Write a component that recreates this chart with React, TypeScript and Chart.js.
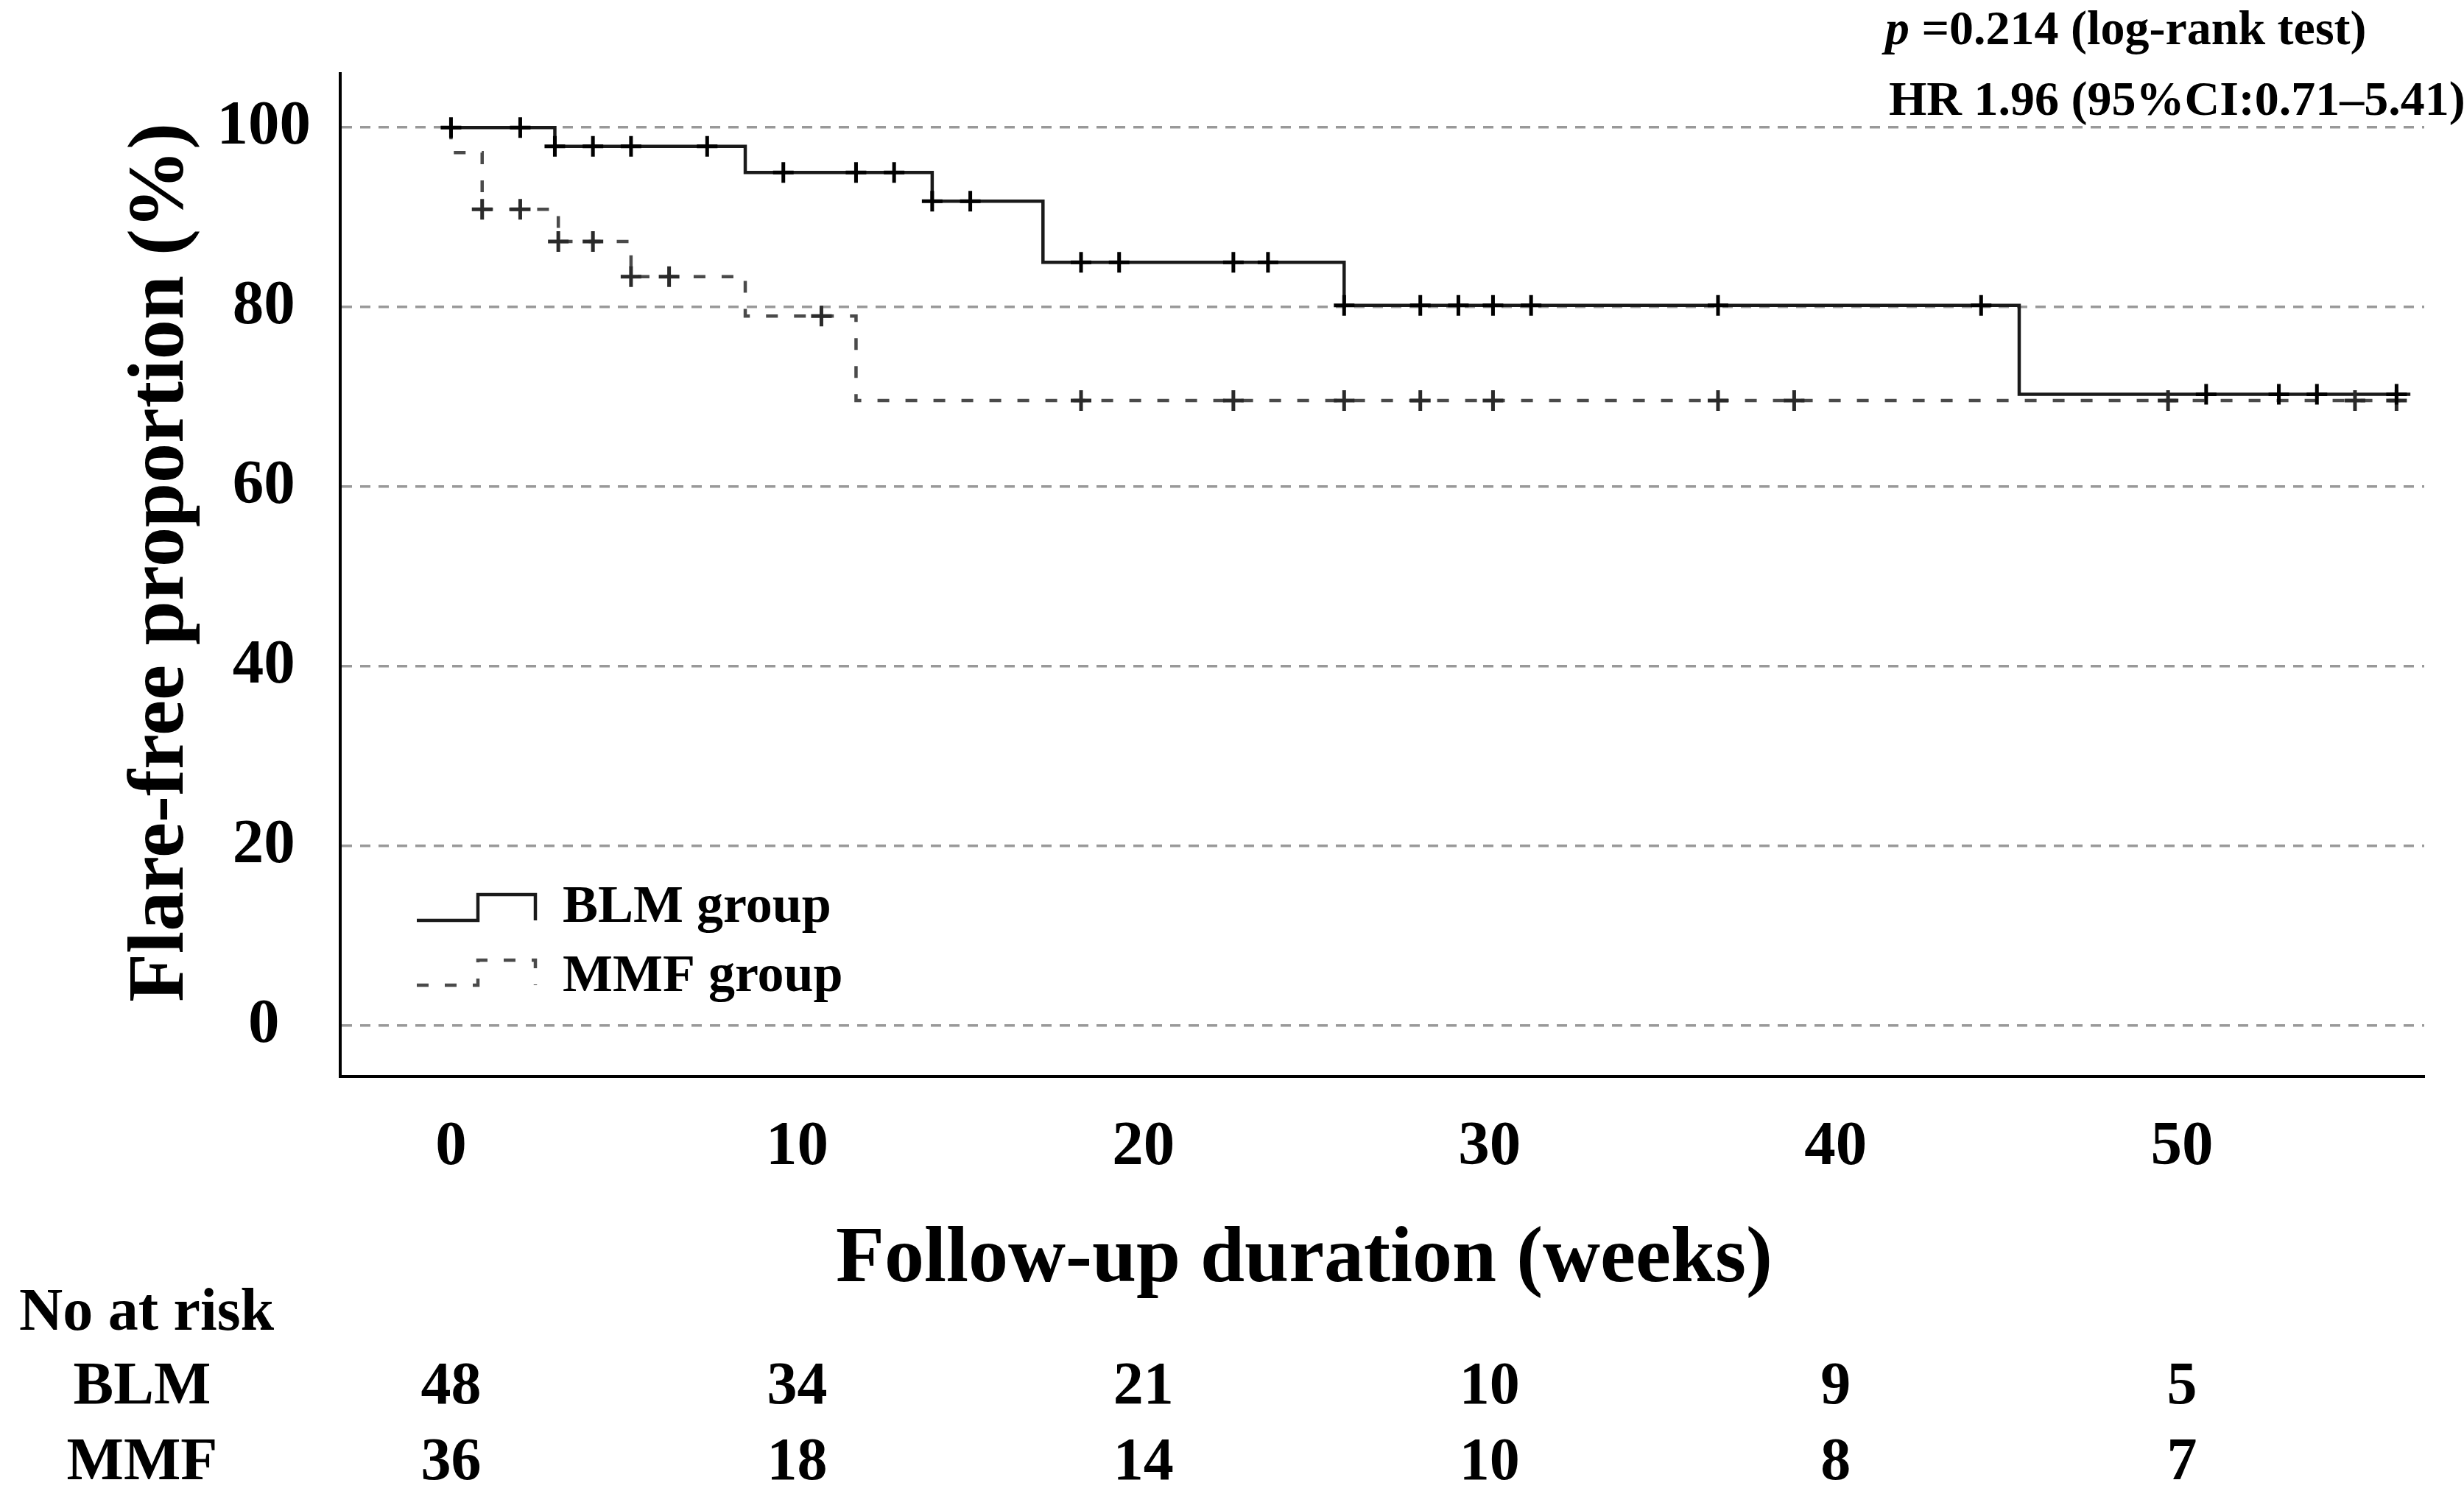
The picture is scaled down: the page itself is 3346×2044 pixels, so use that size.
import React, { useEffect, useRef } from "react";
import { Chart, registerables } from "chart.js";

Chart.register(...registerables);

// ---- data ----
const xTicks = [0, 10, 20, 30, 40, 50];
const yTicks = [0, 20, 40, 60, 80, 100];

const blmTimes = [0, 3.0, 8.5, 13.9, 17.1, 25.8, 45.3, 56.6];
const blmSurvival = [100, 97.9, 95.0, 91.8, 85.0, 80.2, 70.3, 70.3];

const mmfTimes = [0, 0, 0.9, 3.1, 5.2, 8.5, 11.7, 56.6];
const mmfSurvival = [100, 97.2, 90.9, 87.3, 83.4, 79.0, 69.6, 69.6];

const blmCensorTimes = [0, 2.0, 3.0, 4.1, 5.2, 7.4, 9.6, 11.7, 12.8, 13.9, 15.0, 18.2, 19.3, 22.6, 23.6, 25.8, 28.0, 29.1, 30.1, 31.2, 36.6, 44.2, 50.7, 52.8, 53.9, 56.2];
const blmCensorValues = [100, 100, 97.9, 97.9, 97.9, 97.9, 95.0, 95.0, 95.0, 91.8, 91.8, 85.0, 85.0, 85.0, 85.0, 80.2, 80.2, 80.2, 80.2, 80.2, 80.2, 80.2, 70.3, 70.3, 70.3, 70.3];

const mmfCensorTimes = [0.9, 2.0, 3.1, 4.1, 5.2, 6.3, 10.7, 18.2, 22.6, 25.8, 28.0, 30.1, 36.6, 38.8, 49.6, 55.0, 56.2];
const mmfCensorValues = [90.9, 90.9, 87.3, 87.3, 83.4, 83.4, 79.0, 69.6, 69.6, 69.6, 69.6, 69.6, 69.6, 69.6, 69.6, 69.6, 69.6];

const riskGroups = ["BLM", "MMF"];
const blmAtRisk = [48, 34, 21, 10, 9, 5];
const mmfAtRisk = [36, 18, 14, 10, 8, 7];

const groupLabels = ["BLM group", "MMF group"];
const yTitle = "Flare-free proportion (%)";
const xTitle = "Follow-up duration (weeks)";
const riskTitle = "No at risk";
const pText = " =0.214 (log-rank test)";
const hrText = "HR 1.96 (95%CI:0.71\u20135.41)";

const FONT = "'Liberation Serif', 'Times New Roman', Times, serif";
const MMF_DASH = [16, 22];

const textPlugin = {
  id: "kmText",
  afterDraw(chart: any) {
    const ctx = chart.ctx as CanvasRenderingContext2D;
    const xs = chart.scales.x;
    ctx.save();
    ctx.fillStyle = "#000";

    // y title
    ctx.save();
    ctx.translate(248, 764);
    ctx.rotate(-Math.PI / 2);
    ctx.font = `bold 108px ${FONT}`;
    ctx.textAlign = "center";
    ctx.textBaseline = "alphabetic";
    ctx.fillText(yTitle, 0, 0);
    ctx.restore();

    // x title
    ctx.font = `bold 108px ${FONT}`;
    ctx.textAlign = "center";
    ctx.textBaseline = "alphabetic";
    ctx.fillText(xTitle, 1771, 1740);

    // number at risk
    ctx.font = `bold 82px ${FONT}`;
    ctx.textAlign = "left";
    ctx.fillText(riskTitle, 26, 1806);
    const rows = [blmAtRisk, mmfAtRisk];
    const rowBase = [1906, 2009];
    rows.forEach((row, r) => {
      ctx.textAlign = "center";
      ctx.fillText(riskGroups[r], 193, rowBase[r]);
      row.forEach((n, i) => {
        ctx.fillText(String(n), xs.getPixelForValue(xTicks[i]), rowBase[r]);
      });
    });

    // statistics
    ctx.textAlign = "left";
    ctx.font = `italic bold 66px ${FONT}`;
    ctx.fillText("p", 2560, 60);
    const pw = ctx.measureText("p").width;
    ctx.font = `bold 66px ${FONT}`;
    ctx.fillText(pText, 2560 + pw, 60);
    ctx.fillText(hrText, 2565, 156);

    // legend
    ctx.lineWidth = 4.5;
    ctx.strokeStyle = "#1a1a1a";
    ctx.setLineDash([]);
    ctx.beginPath();
    ctx.moveTo(566, 1250);
    ctx.lineTo(649, 1250);
    ctx.lineTo(649, 1215);
    ctx.lineTo(727, 1215);
    ctx.lineTo(727, 1250);
    ctx.stroke();

    ctx.strokeStyle = "#4a4a4a";
    ctx.setLineDash(MMF_DASH);
    ctx.beginPath();
    ctx.moveTo(566, 1338);
    ctx.lineTo(649, 1338);
    ctx.lineTo(649, 1304);
    ctx.lineTo(727, 1304);
    ctx.lineTo(727, 1338);
    ctx.stroke();
    ctx.setLineDash([]);

    ctx.font = `bold 72px ${FONT}`;
    ctx.fillStyle = "#000";
    ctx.fillText(groupLabels[0], 764, 1252);
    ctx.fillText(groupLabels[1], 764, 1346);

    ctx.restore();
  },
};

export default function App() {
  const ref = useRef<HTMLCanvasElement | null>(null);

  useEffect(() => {
    document.body.style.margin = "0";
    if (!ref.current) return;
    const tickFont = { family: FONT, size: 85, weight: "bold" as const };
    const chart = new Chart(ref.current, {
      type: "line",
      data: {
        datasets: [
          {
            label: "BLM censored",
            data: blmCensorTimes.map((t, i) => ({ x: t, y: blmCensorValues[i] })),
            showLine: false,
            pointStyle: "cross",
            pointRadius: 14,
            pointBorderWidth: 5,
            pointBorderColor: "#000",
            order: 0,
          } as any,
          {
            label: "MMF censored",
            data: mmfCensorTimes.map((t, i) => ({ x: t, y: mmfCensorValues[i] })),
            showLine: false,
            pointStyle: "cross",
            pointRadius: 14,
            pointBorderWidth: 5,
            pointBorderColor: "#2a2a2a",
            order: 0,
          } as any,
          {
            label: groupLabels[0],
            data: blmTimes.map((t, i) => ({ x: t, y: blmSurvival[i] })),
            stepped: "before",
            borderColor: "#1a1a1a",
            borderWidth: 4.5,
            pointRadius: 0,
            fill: false,
            order: 1,
          } as any,
          {
            label: groupLabels[1],
            data: mmfTimes.map((t, i) => ({ x: t, y: mmfSurvival[i] })),
            stepped: "before",
            borderColor: "#4a4a4a",
            borderWidth: 4.5,
            borderDash: MMF_DASH,
            pointRadius: 0,
            fill: false,
            order: 2,
          } as any,
        ],
      },
      options: {
        animation: false,
        responsive: false,
        devicePixelRatio: 1,
        layout: { padding: { left: 0, right: 54, top: 100, bottom: 0 } },
        plugins: {
          legend: { display: false },
          tooltip: { enabled: false },
        },
        scales: {
          x: {
            type: "linear",
            min: -3.2,
            max: 57.0,
            afterBuildTicks: (scale: any) => {
              scale.ticks = xTicks.map((v) => ({ value: v }));
            },
            afterFit: (scale: any) => {
              scale.height = 582;
            },
            grid: { display: true, drawOnChartArea: false, drawTicks: false },
            border: { display: true, color: "#000", width: 4 },
            ticks: {
              font: tickFont,
              color: "#000",
              padding: 46,
              autoSkip: false,
              maxRotation: 0,
            },
          },
          y: {
            type: "linear",
            min: -5.65,
            max: 106,
            afterBuildTicks: (scale: any) => {
              scale.ticks = yTicks.map((v) => ({ value: v }));
            },
            afterFit: (scale: any) => {
              scale.width = 462;
            },
            grid: { color: "#999999", lineWidth: 3.5, drawTicks: false },
            border: { display: true, color: "#000", width: 4, dash: [14, 11] },
            ticks: {
              font: tickFont,
              color: "#000",
              padding: 40,
              crossAlign: "center",
            },
          },
        },
      } as any,
      plugins: [textPlugin],
    });
    return () => chart.destroy();
  }, []);

  return (
    <div style={{ width: 3346, height: 2044, background: "#fff" }}>
      <canvas ref={ref} width={3346} height={2044} style={{ display: "block" }} />
    </div>
  );
}
